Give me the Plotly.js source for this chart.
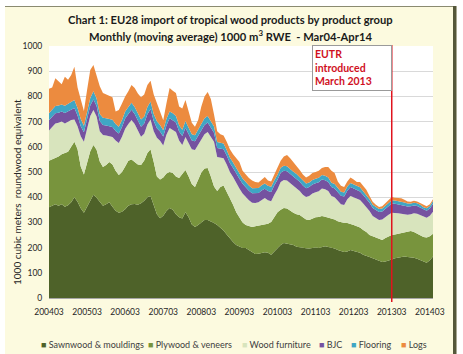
<!DOCTYPE html>
<html><head><meta charset="utf-8">
<script src="https://cdn.plot.ly/plotly-3.0.1.min.js"></script>
<style>html,body{margin:0;padding:0;background:#fff}#chart{width:463px;height:354px}</style>
</head><body><div id="chart"></div>
<script>
const sawnwood = [
360,365,372,366,372,362,368,380,400,382,
356,338,362,392,410,398,380,366,372,380,
362,346,338,342,352,366,372,373,370,376,
386,400,405,370,332,316,326,345,357,350,
332,320,315,340,320,292,282,290,300,310,
310,305,298,290,280,268,252,236,222,210,
205,198,198,190,180,175,176,178,182,180,
172,185,198,210,218,215,212,210,203,200,
198,197,196,198,200,198,203,205,202,200,
196,190,185,183,185,190,187,185,180,172,
166,163,158,152,146,143,145,148,153,158,
160,162,165,163,162,160,156,151,145,140,
150,165];
const plywood = [
185,185,186,196,198,213,212,220,220,208,
166,152,170,190,197,190,162,154,156,160,
168,159,150,158,170,179,178,167,160,152,
160,175,185,170,150,154,152,149,143,146,
150,156,175,168,162,160,158,180,198,204,
206,177,144,135,160,178,168,164,148,130,
115,102,92,95,102,110,112,112,110,115,
130,135,142,140,139,140,133,128,129,129,
122,115,114,117,120,123,122,117,116,117,
116,115,115,115,113,105,103,100,100,98,
96,87,87,86,86,87,93,97,97,94,
95,96,95,102,104,102,99,97,97,100,
95,90];
const furniture = [
120,128,134,133,130,117,120,106,88,92,
120,130,140,140,139,132,120,127,117,102,
109,120,127,140,150,145,156,150,132,112,
106,113,118,122,154,154,127,154,175,172,
177,149,117,131,133,138,147,137,132,136,
143,158,178,135,116,109,110,100,110,115,
115,115,110,103,96,92,92,100,105,93,
82,90,92,110,111,111,111,108,105,96,
90,89,95,100,100,103,110,110,107,88,
88,80,72,71,94,110,110,107,109,105,
98,95,80,80,78,82,84,85,88,86,
81,76,72,65,66,74,79,80,80,78,
81,87];
const bjc = [
40,40,41,40,40,42,41,42,46,42,
40,38,40,42,42,42,40,40,40,40,
40,38,38,39,40,40,41,40,40,40,
40,41,42,40,38,37,36,37,38,38,
37,36,36,37,36,35,35,35,36,37,
37,37,36,35,35,35,35,36,36,37,
38,38,38,38,38,38,37,37,37,37,
37,37,37,37,37,37,36,36,36,36,
36,35,35,35,35,35,35,35,35,35,
35,34,34,34,34,35,34,34,34,34,
34,33,32,31,31,31,33,35,37,36,
36,36,35,33,32,31,31,31,28,28,
29,32];
const flooring = [
28,28,29,29,28,29,29,30,32,30,
28,26,28,30,32,30,28,28,28,28,
28,27,27,27,28,28,28,28,28,28,
28,29,30,28,27,26,25,26,27,27,
26,25,25,26,25,25,24,25,25,26,
26,26,25,24,24,23,22,22,22,22,
22,21,21,20,20,20,20,20,20,20,
20,20,20,20,20,20,19,19,19,18,
18,18,18,18,18,18,18,18,18,17,
17,17,16,16,16,16,16,16,16,15,
15,14,13,12,12,12,12,13,13,13,
13,13,12,12,11,11,11,11,10,10,
10,11];
const logs = [
97,89,110,96,80,115,96,107,132,81,
72,58,85,111,105,90,110,98,95,92,
90,50,66,66,60,62,70,75,82,89,
88,87,82,78,71,48,39,61,93,89,
91,74,84,84,66,45,34,39,69,87,
95,87,47,43,35,32,33,32,32,41,
45,31,31,30,30,25,21,23,26,21,
21,23,26,28,37,44,44,39,30,29,
26,24,27,28,27,28,28,35,42,48,
44,26,23,21,20,22,20,18,21,22,
21,13,12,9,8,9,10,12,13,11,
12,13,11,8,7,8,7,6,8,8,
7,7];

const months = [];
for (let y = 2004; y <= 2014; y++) {
  for (let m = 1; m <= 12; m++) {
    if ((y === 2004 && m < 3) || (y === 2014 && m > 4)) continue;
    months.push(String(y) + String(m).padStart(2, '0'));
  }
}
const tickLabels = ['200403','200503','200603','200703','200803','200903','201003','201103','201203','201303','201403'];
const yTicks = [0,100,200,300,400,500,600,700,800,900,1000];
const seriesNames = ['Sawnwood & mouldings','Plywood & veneers','Wood furniture','BJC','Flooring','Logs'];
const seriesValues = [sawnwood, plywood, furniture, bjc, flooring, logs];
const seriesColors = ['#4e6229','#78943d','#d8e4bd','#7552a0','#3fa6c4','#ec8b3f'];
const eutrMonth = '201303';
const titleLines = ['Chart 1: EU28 import of tropical wood products by product group',
  'Monthly (moving average) 1000 m<sup>3</sup> RWE  - Mar04-Apr14'];

const traces = seriesValues.map((v, k) => ({
  type: 'scatter', mode: 'lines', x: months, y: v, stackgroup: 'one',
  name: seriesNames[k], line: {width: 0, color: seriesColors[k]},
  fillcolor: seriesColors[k], showlegend: false, hoverinfo: 'skip'
}));

const W = 463, H = 354, L = 49, R = 30, T = 46, B = 56;
const pw = W - L - R, ph = H - T - B;
const px = v => (v - L) / pw;
const py = v => (H - B - v) / ph;

const legendX = [39, 146, 240, 317, 349, 399];
const annotations = seriesNames.map((n, k) => ({
  xref: 'paper', yref: 'paper', x: px(legendX[k]), y: py(344), xanchor: 'left', yanchor: 'middle',
  showarrow: false, text: '<span style="color:' + seriesColors[k] + '">■</span> ' + n,
  font: {family: 'Lato', size: 9, color: '#404040'}
}));
titleLines.forEach((t, k) => annotations.push({
  xref: 'paper', yref: 'paper', x: px(W / 2 - 1), y: py(20 + 15.5 * k), xanchor: 'center', yanchor: 'middle',
  showarrow: false, text: '<b>' + t + '</b>', font: {family: 'Lato', size: 11.2, color: '#1a1a1a'}
}));
annotations.push({
  xref: 'paper', yref: 'paper', x: px(17), y: py(192), xanchor: 'center', yanchor: 'middle', textangle: -90, showarrow: false,
  text: '1000 cubic meters  roundwood equivalent', font: {family: 'Lato', size: 10, color: '#262626'}
});
annotations.push({
  xref: 'x', yref: 'paper', x: months.indexOf(eutrMonth), y: py(45), xanchor: 'right', yanchor: 'top',
  showarrow: false, align: 'left', valign: 'top', width: 74, height: 40, borderpad: 2,
  bgcolor: '#ffffff', bordercolor: '#9a9a9a', borderwidth: 1,
  text: '<b>EUTR<br>introduced<br>March 2013</b>', font: {family: 'Lato', size: 10.5, color: '#d0101e'}
});

const shapes = [
  {type: 'rect', xref: 'paper', yref: 'paper', x0: px(0), x1: px(W), y0: py(0), y1: py(6), fillcolor: '#ffffff', line: {width: 0}, layer: 'above'},
  {type: 'rect', xref: 'paper', yref: 'paper', x0: px(0), x1: px(5), y0: py(0), y1: py(H), fillcolor: '#ffffff', line: {width: 0}, layer: 'above'},
  {type: 'line', xref: 'paper', yref: 'paper', x0: px(5), x1: px(455), y0: py(6.5), y1: py(6.5), line: {color: '#8a8a70', width: 1.2}, layer: 'above'},
  {type: 'rect', xref: 'paper', yref: 'paper', x0: px(456.5), x1: px(W), y0: py(0), y1: py(H), fillcolor: '#ffffff', line: {width: 0}, layer: 'above'},
  {type: 'rect', xref: 'paper', yref: 'paper', x0: px(453), x1: px(456.5), y0: py(6), y1: py(H), fillcolor: '#55573a', line: {width: 0}, layer: 'above'},
  {type: 'line', xref: 'x', yref: 'paper', x0: months.indexOf(eutrMonth), x1: months.indexOf(eutrMonth), y0: py(302), y1: py(45), line: {color: '#e0141e', width: 1.5}, layer: 'above'}
];

const layout = {
  width: W, height: H, margin: {l: L, r: R, t: T, b: B},
  paper_bgcolor: '#fcfadf', plot_bgcolor: '#ffffff',
  xaxis: {type: 'category', range: [0, months.length - 1], tickmode: 'array', tickvals: tickLabels, ticktext: tickLabels,
    showgrid: false, showline: true, linecolor: '#a6a6a6', ticks: 'outside', ticklen: 6, tickcolor: 'rgba(0,0,0,0)',
    tickfont: {family: 'Lato', size: 8.5, color: '#262626'}, tickangle: 0, fixedrange: true},
  yaxis: {range: [0, 1000], tickmode: 'array', tickvals: yTicks, ticktext: yTicks.map(String), showgrid: true, gridcolor: '#d9d9d9',
    zeroline: false, showline: false, ticks: 'outside', ticklen: 4, tickcolor: 'rgba(0,0,0,0)',
    tickfont: {family: 'Lato', size: 8.5, color: '#262626'}, fixedrange: true},
  showlegend: false, annotations: annotations, shapes: shapes
};
Plotly.newPlot('chart', traces, layout, {displayModeBar: false, staticPlot: true});
</script></body></html>
